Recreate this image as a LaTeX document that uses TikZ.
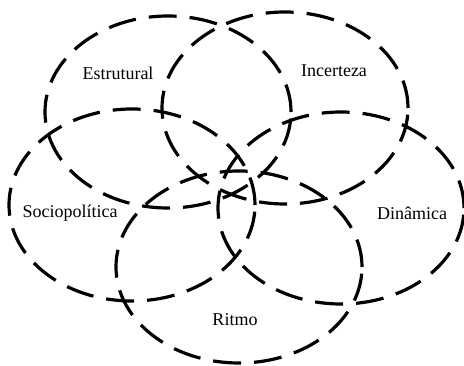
\documentclass[tikz,border=0pt]{standalone}
\usepackage{fontspec}
\setmainfont{Liberation Serif}
\usetikzlibrary{shapes.geometric}
\begin{document}
\begin{tikzpicture}[x=1pt,y=-1pt,
  ring/.style={ellipse,draw=black,line width=3.2pt,dash pattern=on 28pt off 13pt,inner sep=0pt,minimum width=246pt,minimum height=192pt},
  lbl/.style={font=\fontsize{18}{20}\selectfont,inner sep=0pt}]
\useasboundingbox (0,0) rectangle (464,366);
\node[ring] (estr) at (168,112) {};
\node[ring] (ince) at (285,108) {};
\node[ring] (soci) at (132,205) {};
\node[ring] (dina) at (341,208) {};
\node[ring] (ritm) at (239,267) {};
\node[lbl] (lestr) at (118,73) {Estrutural};
\node[lbl] (lince) at (334,71) {Incerteza};
\node[lbl] (lsoci) at (70,213) {Sociopolítica};
\node[lbl] (ldina) at (412,213) {Dinâmica};
\node[lbl] (lritm) at (235,320) {Ritmo};
\end{tikzpicture}
\end{document}
